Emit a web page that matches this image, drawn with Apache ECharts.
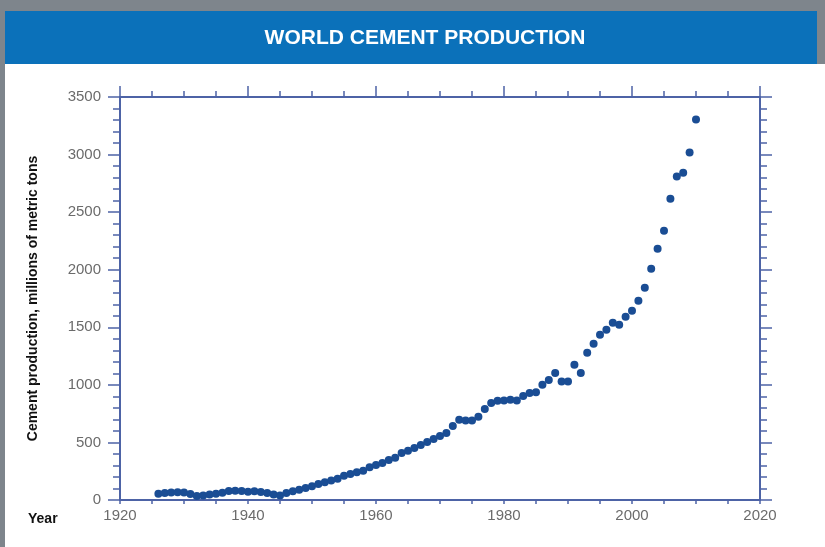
<!DOCTYPE html>
<html>
<head>
<meta charset="utf-8">
<script src="https://cdn.jsdelivr.net/npm/echarts@6/dist/echarts.min.js"></script>
<style>
html,body{margin:0;padding:0;background:#ffffff;}
#chart{width:825px;height:547px;}
</style>
</head>
<body>
<div id="chart"></div>
<script>
const years = [1926,1927,1928,1929,1930,1931,1932,1933,1934,1935,1936,1937,1938,1939,1940,1941,1942,1943,1944,1945,
1946,1947,1948,1949,1950,1951,1952,1953,1954,1955,1956,1957,1958,1959,1960,1961,1962,1963,1964,1965,
1966,1967,1968,1969,1970,1971,1972,1973,1974,1975,1976,1977,1978,1979,1980,1981,1982,1983,1984,1985,
1986,1987,1988,1989,1990,1991,1992,1993,1994,1995,1996,1997,1998,1999,2000,2001,2002,2003,2004,2005,
2006,2007,2008,2009,2010];
const production = [55,60,65,68,65,52,35,38,48,55,62,78,80,78,72,75,70,60,48,40,
60,75,90,105,120,140,155,170,185,210,225,240,255,285,305,322,348,368,408,428,
452,478,504,530,556,582,643,696,690,690,722,791,843,861,865,870,865,904,930,935,
1000,1043,1104,1030,1030,1174,1104,1278,1357,1435,1478,1539,1522,1591,1643,1730,1843,2009,2183,2339,
2617,2809,2843,3017,3304];
const yTicks = {min:0, max:3500, interval:500};
const xTicks = {min:1920, max:2020, interval:20};
const titleText = 'WORLD CEMENT PRODUCTION';
const yName = 'Cement production, millions of metric tons';
const xName = 'Year';

const axisColor = '#4d63a6';
const chart = echarts.init(document.getElementById('chart'));
const points = years.map((y,i)=>[y, production[i]]);

chart.setOption({
  animation:false,
  backgroundColor:'#ffffff',
  graphic:[
    {type:'rect', shape:{x:0,y:0,width:825,height:11}, style:{fill:'#7e858c'}, silent:true},
    {type:'rect', shape:{x:0,y:0,width:5,height:547}, style:{fill:'#7e858c'}, silent:true},
    {type:'rect', shape:{x:817,y:0,width:8,height:64}, style:{fill:'#7e858c'}, silent:true},
    {type:'rect', shape:{x:5,y:11,width:812,height:53}, style:{fill:'#0b71ba'}, silent:true},
    {type:'text', x:425, y:38, style:{text:titleText, fill:'#ffffff', font:'bold 21px "Liberation Sans", Arial, sans-serif', align:'center', verticalAlign:'middle'}},
    {type:'text', x:28, y:519, style:{text:xName, fill:'#111111', font:'bold 14px "Liberation Sans", Arial, sans-serif', align:'left', verticalAlign:'middle'}}
  ],
  grid:{left:120, right:65, top:97, bottom:47},
  xAxis:[
    {type:'value', position:'bottom', min:xTicks.min, max:xTicks.max, interval:xTicks.interval,
     axisLine:{show:true, lineStyle:{color:axisColor, width:2}},
     axisTick:{show:true, inside:false, length:4, lineStyle:{color:axisColor, width:1.5}},
     minorTick:{show:true, splitNumber:4, length:4, lineStyle:{color:axisColor, width:1.5}},
     axisLabel:{color:'#6b6b6b', fontSize:15, margin:8, fontFamily:'"Liberation Sans", Arial, sans-serif', formatter:v=>String(v)},
     splitLine:{show:false}, minorSplitLine:{show:false}},
    {type:'value', position:'top', min:xTicks.min, max:xTicks.max, interval:xTicks.interval,
     axisLine:{show:true, onZero:false, lineStyle:{color:axisColor, width:2}},
     axisTick:{show:true, inside:false, length:11, lineStyle:{color:axisColor, width:1.5}},
     minorTick:{show:true, splitNumber:4, length:6, lineStyle:{color:axisColor, width:1.5}},
     axisLabel:{show:false}, splitLine:{show:false}}
  ],
  yAxis:[
    {type:'value', position:'left', min:yTicks.min, max:yTicks.max, interval:yTicks.interval,
     name:yName, nameLocation:'middle', nameGap:80, nameRotate:90,
     nameTextStyle:{color:'#111111', fontSize:14, fontWeight:'bold', fontFamily:'"Liberation Sans", Arial, sans-serif'},
     axisLine:{show:true, lineStyle:{color:axisColor, width:2}},
     axisTick:{show:true, inside:false, length:12, lineStyle:{color:axisColor, width:1.5}},
     minorTick:{show:true, splitNumber:5, length:7, lineStyle:{color:axisColor, width:1.5}},
     axisLabel:{color:'#6b6b6b', fontSize:15, margin:19, fontFamily:'"Liberation Sans", Arial, sans-serif', formatter:v=>String(v)},
     splitLine:{show:false}},
    {type:'value', position:'right', min:yTicks.min, max:yTicks.max, interval:yTicks.interval,
     axisLine:{show:true, onZero:false, lineStyle:{color:axisColor, width:2}},
     axisTick:{show:true, inside:false, length:12, lineStyle:{color:axisColor, width:1.5}},
     minorTick:{show:true, splitNumber:5, length:7, lineStyle:{color:axisColor, width:1.5}},
     axisLabel:{show:false}, splitLine:{show:false}}
  ],
  series:[{
    type:'scatter', xAxisIndex:0, yAxisIndex:0, data:points,
    symbol:'circle', symbolSize:8,
    itemStyle:{color:'#1a4d94', opacity:1}
  }]
});
</script>
</body>
</html>
